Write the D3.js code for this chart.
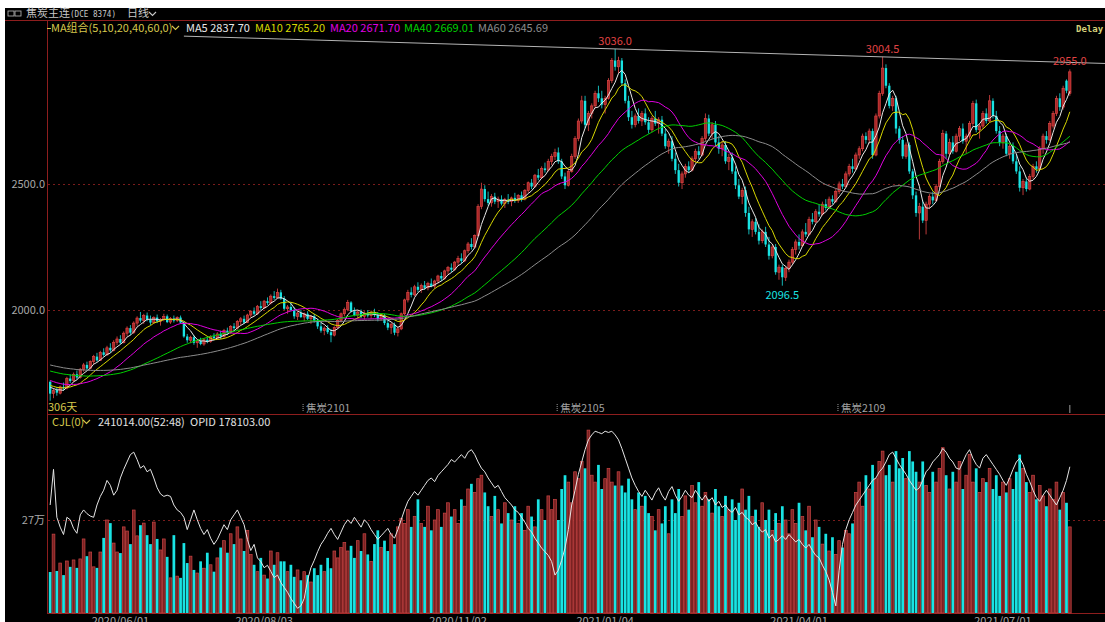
<!DOCTYPE html>
<html>
<head>
<meta charset="utf-8">
<script src="https://cdn.jsdelivr.net/npm/d3@7"></script>
<style>
body { margin: 0; background: #fff; }
svg { display: block; }
text { font-family: "Noto Sans CJK SC", "DejaVu Sans", sans-serif; }
</style>
</head>
<body>
<svg width="1105" height="622"></svg>
<script>
// 焦炭主连 daily candles, [open, high, low, close]
var ohlc = [
  [1715,1720,1640,1668],[1668,1690,1650,1680],[1682,1695,1660,1672],[1670,1700,1665,1695],[1695,1712,1680,1690],[1690,1735,1685,1728],[1728,1745,1710,1718],[1720,1752,1715,1745],[1745,1760,1725,1732],[1732,1770,1728,1765],
  [1765,1790,1755,1782],[1782,1795,1760,1768],[1768,1800,1765,1795],[1795,1822,1785,1815],[1815,1830,1795,1800],[1800,1838,1798,1832],[1832,1848,1815,1822],[1822,1858,1818,1850],[1850,1868,1830,1840],[1840,1880,1836,1872],
  [1872,1895,1860,1885],[1885,1900,1865,1870],[1870,1915,1868,1908],[1908,1935,1895,1928],[1928,1940,1900,1910],[1910,1955,1905,1948],[1948,1975,1935,1968],[1968,1992,1950,1958],[1958,1985,1945,1978],[1978,1990,1955,1962],
  [1962,1978,1940,1950],[1950,1975,1945,1970],[1970,1982,1948,1955],[1955,1968,1938,1962],[1962,1985,1955,1975],[1975,1982,1948,1952],[1952,1972,1945,1966],[1966,1978,1950,1958],[1958,1975,1952,1970],[1970,1978,1945,1950],
  [1950,1955,1890,1895],[1895,1905,1870,1880],[1880,1898,1868,1892],[1892,1900,1862,1870],[1870,1885,1850,1878],[1878,1890,1860,1865],[1865,1888,1858,1882],[1882,1895,1868,1875],[1875,1900,1870,1895],[1895,1908,1880,1888],
  [1888,1912,1882,1905],[1905,1918,1885,1895],[1895,1925,1890,1918],[1918,1930,1900,1910],[1910,1940,1905,1935],[1935,1948,1920,1928],[1928,1960,1922,1955],[1955,1972,1940,1965],[1965,1978,1945,1950],[1950,1985,1948,1980],
  [1980,2000,1970,1995],[1995,2010,1978,1985],[1985,2020,1980,2015],[2015,2035,2000,2008],[2008,2040,2005,2035],[2035,2050,2020,2028],[2028,2062,2022,2055],[2055,2075,2040,2048],[2048,2085,2045,2070],[2070,2080,2040,2045],
  [2045,2055,2000,2005],[2005,2020,1985,2012],[2012,2030,1995,2000],[2000,2010,1965,1975],[1975,1995,1960,1988],[1988,2000,1968,1972],[1972,1990,1955,1985],[1985,1995,1960,1965],[1965,1980,1945,1975],[1975,1985,1950,1958],
  [1958,1965,1925,1935],[1935,1950,1910,1918],[1918,1935,1900,1928],[1928,1940,1905,1912],[1912,1925,1872,1900],[1900,1935,1895,1930],[1930,1965,1925,1958],[1958,1990,1950,1985],[1985,2010,1975,2002],[2002,2040,1995,2030],
  [2030,2035,1990,1995],[1995,2010,1975,1980],[1980,2000,1965,1992],[1992,2002,1968,1975],[1975,1995,1962,1988],[1988,2000,1970,1978],[1978,1998,1965,1990],[1990,2005,1972,1980],[1980,1992,1955,1965],[1965,1985,1958,1978],
  [1978,1985,1940,1948],[1948,1962,1920,1930],[1930,1950,1905,1942],[1942,1950,1900,1910],[1910,1935,1895,1925],[1925,1990,1920,1985],[1985,2045,1980,2040],[2040,2080,2030,2070],[2070,2090,2050,2060],[2060,2100,2055,2092],
  [2092,2110,2070,2080],[2080,2105,2068,2098],[2098,2115,2080,2088],[2088,2112,2078,2105],[2105,2125,2090,2095],[2095,2120,2085,2115],[2115,2140,2105,2135],[2135,2150,2115,2125],[2125,2160,2120,2155],[2155,2175,2140,2168],
  [2168,2185,2150,2160],[2160,2195,2155,2190],[2190,2215,2175,2205],[2205,2225,2185,2195],[2195,2240,2190,2235],[2235,2270,2225,2262],[2262,2285,2240,2250],[2250,2300,2245,2295],[2295,2420,2290,2410],[2410,2505,2400,2480],
  [2480,2495,2430,2440],[2440,2470,2415,2425],[2425,2460,2410,2450],[2450,2465,2420,2430],[2430,2450,2405,2440],[2440,2455,2415,2422],[2422,2445,2405,2438],[2438,2460,2420,2430],[2430,2450,2412,2445],[2445,2465,2425,2435],
  [2435,2460,2425,2455],[2455,2470,2430,2440],[2440,2480,2435,2475],[2475,2510,2465,2505],[2505,2520,2480,2490],[2490,2540,2485,2535],[2535,2560,2515,2525],[2525,2570,2520,2562],[2562,2585,2545,2555],[2555,2600,2550,2590],
  [2590,2620,2575,2610],[2610,2640,2595,2625],[2625,2645,2580,2590],[2590,2600,2520,2530],[2530,2545,2480,2495],[2495,2560,2490,2550],[2550,2620,2545,2610],[2610,2690,2600,2680],[2680,2760,2670,2750],[2750,2850,2740,2830],
  [2830,2850,2720,2735],[2735,2790,2710,2780],[2780,2820,2760,2810],[2810,2870,2800,2860],[2860,2890,2825,2840],[2840,2870,2800,2815],[2815,2850,2780,2840],[2840,2920,2835,2910],[2910,3000,2900,2990],[2990,3036,2950,2965],
  [2965,3005,2940,2990],[2990,3000,2890,2900],[2900,2915,2820,2830],[2830,2850,2750,2765],[2765,2790,2720,2735],[2735,2780,2725,2770],[2770,2800,2740,2750],[2750,2790,2730,2780],[2780,2800,2735,2745],[2745,2765,2700,2715],
  [2715,2770,2705,2760],[2760,2790,2730,2740],[2740,2765,2700,2755],[2755,2770,2690,2700],[2700,2720,2640,2650],[2650,2680,2620,2670],[2670,2690,2590,2600],[2600,2625,2540,2555],[2555,2580,2490,2505],[2505,2550,2480,2540],
  [2540,2580,2525,2570],[2570,2590,2545,2555],[2555,2610,2550,2600],[2600,2640,2585,2630],[2630,2650,2600,2615],[2615,2690,2610,2680],[2680,2780,2670,2760],[2760,2775,2690,2700],[2700,2745,2680,2735],[2735,2750,2650,2665],
  [2665,2690,2620,2640],[2640,2670,2610,2655],[2655,2670,2580,2590],[2590,2620,2555,2605],[2605,2625,2540,2550],[2550,2570,2480,2495],[2495,2520,2440,2450],[2450,2485,2420,2475],[2475,2490,2370,2385],[2385,2410,2300,2320],
  [2320,2360,2290,2350],[2350,2365,2300,2310],[2310,2340,2260,2275],[2275,2320,2265,2310],[2310,2330,2250,2260],[2260,2290,2200,2215],[2215,2260,2205,2250],[2250,2262,2140,2150],[2150,2180,2120,2170],[2170,2180,2096.5,2130],
  [2130,2175,2115,2165],[2165,2200,2150,2190],[2190,2250,2180,2240],[2240,2280,2220,2270],[2270,2300,2240,2255],[2255,2320,2250,2310],[2310,2345,2290,2300],[2300,2370,2295,2360],[2360,2385,2340,2350],[2350,2400,2345,2390],
  [2390,2420,2370,2380],[2380,2430,2375,2420],[2420,2440,2395,2405],[2405,2450,2400,2440],[2440,2455,2420,2430],[2430,2480,2425,2470],[2470,2510,2460,2500],[2500,2520,2480,2490],[2490,2550,2485,2540],[2540,2580,2530,2570],
  [2570,2600,2545,2560],[2560,2625,2555,2615],[2615,2650,2600,2640],[2640,2700,2630,2690],[2690,2705,2660,2675],[2675,2720,2660,2710],[2710,2720,2600,2615],[2615,2780,2610,2770],[2770,2870,2760,2860],[2860,3004.5,2850,2960],
  [2960,2975,2880,2890],[2890,2900,2800,2810],[2810,2850,2790,2840],[2840,2850,2700,2720],[2720,2730,2660,2675],[2675,2690,2600,2610],[2610,2665,2600,2655],[2655,2665,2540,2550],[2550,2560,2440,2455],[2455,2470,2370,2385],
  [2385,2425,2280,2410],[2410,2435,2345,2355],[2355,2430,2300,2420],[2420,2460,2400,2450],[2450,2470,2420,2435],[2435,2500,2430,2490],[2490,2600,2485,2590],[2590,2715,2580,2700],[2700,2710,2600,2620],[2620,2680,2610,2665],
  [2665,2690,2620,2630],[2630,2700,2625,2690],[2690,2730,2670,2720],[2720,2740,2660,2670],[2670,2700,2620,2690],[2690,2750,2680,2740],[2740,2830,2730,2820],[2820,2835,2705,2715],[2715,2740,2680,2730],[2730,2790,2720,2780],
  [2780,2800,2740,2750],[2750,2853,2745,2830],[2830,2840,2760,2770],[2770,2790,2700,2710],[2710,2730,2650,2665],[2665,2700,2640,2690],[2690,2700,2610,2620],[2620,2660,2600,2650],[2650,2665,2580,2590],[2590,2620,2540,2550],
  [2550,2570,2470,2485],[2485,2520,2456,2510],[2510,2525,2470,2480],[2480,2540,2475,2530],[2530,2580,2520,2570],[2570,2590,2545,2560],[2560,2650,2555,2640],[2640,2700,2620,2690],[2690,2710,2660,2675],[2675,2750,2670,2740],
  [2730,2790,2720,2780],[2780,2850,2770,2840],[2840,2860,2790,2805],[2805,2890,2795,2880],[2910,2915,2860,2870],[2860,2955,2850,2945]
];

// closes before the visible window (only feed the moving averages)
var priorCloses = [
  1860,1852,1845,1858,1840,1832,1825,1838,1830,1822,1815,1828,1835,1820,1812,1825,1818,1810,1822,1815,
  1808,1800,1812,1795,1788,1802,1795,1785,1798,1790,1805,1792,1784,1796,1788,1800,1790,1782,1795,1799,
  1770,1762,1755,1748,1740,1735,1728,1725,1720,1718,
  1715,1712,1708,1702,1700,1705,1698,1696,1700
];

// CJL volume, thousand lots
var volume = [
  119,229,122,145,110,151,134,154,131,157, 215,165,177,134,131,177,218,270,261,203,
  177,174,250,238,200,299,224,255,261,226, 200,264,215,183,215,163,102,226,107,102,
  203,145,165,125,116,150,130,175,140,120, 160,190,210,175,230,200,250,215,180,240,
  170,140,120,160,110,100,180,140,175,150, 150,120,140,105,125,95,120,110,90,130,
  110,140,120,160,130,180,160,190,205,180, 195,160,210,180,230,170,150,200,240,190,
  210,180,230,200,250,275,260,300,250,280, 330,260,250,310,240,270,300,250,290,320,
  280,300,260,330,310,360,375,350,390,400, 350,310,280,340,300,260,320,290,270,310,
  260,290,240,310,280,250,330,300,270,340, 300,330,270,360,400,380,320,410,390,440,
  420,531,400,380,430,360,390,420,380,370, 410,370,350,390,330,300,350,310,340,290,
  280,240,300,260,310,230,330,290,360,280, 340,300,370,320,380,310,350,330,290,360,
  310,280,340,300,330,270,320,360,300,340, 280,300,250,320,270,300,240,290,260,310,
  270,230,300,260,320,280,240,310,220,270, 250,200,230,180,220,170,210,190,240,230,
  260,350,380,310,400,360,430,390,440,470, 400,430,380,470,420,450,390,470,440,410,
  380,440,370,350,410,380,420,480,400,360, 410,380,440,360,400,460,380,420,350,390,
  380,420,360,400,340,380,350,390,360,410, 460,420,380,350,400,330,370,340,310,360,
  330,380,300,350,320,250
];

// OPID open interest, thousand lots
var openInterest = [
  147,176,137,129,123,137,135,128,124,139, 143,140,138,137,147,154,159,167,163,155,
  159,169,176,182,188,190,184,177,179,174, 176,169,161,156,154,155,154,147,143,141,
  137,127,135,143,135,128,123,127,120,115, 119,125,131,127,135,139,143,137,131,119,
  110,115,104,101,96,98,93,88,90,84, 80,76,71,67,63,65,71,86,96,102,
  109,115,119,124,128,123,119,125,131,135, 132,137,133,129,135,132,127,123,119,122,
  125,128,123,120,127,135,143,150,154,158, 155,159,163,167,169,166,171,174,177,180,
  184,182,185,188,185,190,192,188,182,177, 174,169,165,161,163,158,153,150,147,143,
  141,137,133,128,125,120,116,112,109,106, 101,90,94,102,112,127,147,159,172,182,
  192,200,204,207,206,205,207,206,207,204, 200,193,185,177,169,163,158,154,159,155,
  151,157,161,155,151,158,162,155,150,154, 159,155,153,159,155,151,155,150,153,147,
  150,145,147,143,141,145,139,141,137,135, 131,133,128,125,127,120,123,117,119,122,
  119,123,120,117,119,115,112,115,110,106, 104,98,93,86,76,65,94,115,127,135,
  141,147,151,155,159,163,167,169,174,177, 182,188,190,185,180,176,172,167,163,159,
  161,167,174,177,182,185,188,193,190,185, 182,177,176,182,188,192,185,180,177,185,
  188,184,180,176,172,167,163,169,176,182, 185,180,172,166,159,153,150,155,159,155,
  151,147,153,159,167,178.103
];

var dateTickIdx = [21, 64, 122, 166, 224, 285];
var dateTickLabels = ["2020/06/01", "2020/08/03", "2020/11/02", "2021/01/04", "2021/04/01", "2021/07/01"];
var contractIdx = [76, 152, 236];
var contractLabels = ["焦炭2101", "焦炭2105", "焦炭2109"];
var priceTicks = [2000, 2500];
var maPeriods = [5, 10, 20, 40, 60];
var maColors = ["#e8e8e8", "#d8d800", "#e000e0", "#00d000", "#8c8c8c"];
var legendMA = [["MA5", "2837.70"], ["MA10", "2765.20"], ["MA20", "2671.70"], ["MA40", "2669.01"], ["MA60", "2645.69"]];
var peakIdx = [169, 249];   // highs joined by the trend line
var lowMarkIdx = 219;       // marked swing low

var svg = d3.select("svg"),
    W = +svg.attr("width"),
    H = +svg.attr("height"),
    RED = "#e84848", CYAN = "#19e3e3", FRAME = "#8e1e1e";

svg.append("rect").attr("x", 5).attr("y", 8).attr("width", W - 5).attr("height", H - 8).attr("fill", "#000");

var x = d3.scaleBand()
    .domain(d3.range(ohlc.length))
    .range([49, 1071])
    .paddingInner(0.3);

var y = d3.scaleLinear().domain([2000, 2500]).range([310, 184]);
var yVol = d3.scaleLinear().domain([0, 270]).range([613, 520]);
var yOi = d3.scaleLinear().domain([60, 208]).range([612, 430]);

var bw = x.bandwidth(),
    cx = function(i) { return x(i) + bw / 2; },
    isUp = function(d) { return d[3] >= d[0]; };

// frame lines
svg.append("line").attr("x1", 5).attr("x2", W).attr("y1", 20.5).attr("y2", 20.5).attr("stroke", FRAME);
svg.append("line").attr("x1", 47.5).attr("x2", 47.5).attr("y1", 20).attr("y2", 613).attr("stroke", FRAME);
svg.append("line").attr("x1", 47).attr("x2", W).attr("y1", 414.5).attr("y2", 414.5).attr("stroke", FRAME);
svg.append("line").attr("x1", 47).attr("x2", W).attr("y1", 613.5).attr("y2", 613.5).attr("stroke", FRAME);

// dotted grid
svg.selectAll(".grid")
  .data(priceTicks.map(function(d) { return y(d); }).concat([yVol(270)]))
  .enter().append("line")
    .attr("x1", 48).attr("x2", W)
    .attr("y1", function(d) { return Math.round(d) + 0.5; })
    .attr("y2", function(d) { return Math.round(d) + 0.5; })
    .attr("stroke", "#7a1c1c")
    .attr("stroke-dasharray", "2,3");

// y axes
var gy = svg.append("g")
    .attr("transform", "translate(47,0)")
    .call(d3.axisLeft(y).tickValues(priceTicks).tickFormat(d3.format(".1f")).tickSize(0).tickPadding(2));
var gv = svg.append("g")
    .attr("transform", "translate(47,0)")
    .call(d3.axisLeft(yVol).tickValues([270]).tickFormat(function(d) { return (d / 10) + "万"; }).tickSize(0).tickPadding(2));
var gx = svg.append("g")
    .attr("transform", "translate(0,613)")
    .call(d3.axisBottom(x).tickValues(dateTickIdx).tickFormat(function(d, i) { return dateTickLabels[i]; }).tickSize(0).tickPadding(4));
[gy, gv, gx].forEach(function(g) {
  g.select(".domain").remove();
  g.selectAll("text").attr("fill", "#a8a8a8").style("font-size", "11px")
    .style("font-family", "'Noto Sans CJK SC', sans-serif");
});

// volume bars
svg.append("g").selectAll("rect")
  .data(ohlc)
  .enter().append("rect")
    .attr("x", function(d, i) { return x(i) - 0.2; })
    .attr("y", function(d, i) { return yVol(volume[i]); })
    .attr("width", bw + 0.4)
    .attr("height", function(d, i) { return 613 - yVol(volume[i]); })
    .attr("fill", function(d) { return isUp(d) ? "#7a2222" : CYAN; })
    .attr("stroke", function(d) { return isUp(d) ? "#c94444" : "none"; })
    .attr("stroke-width", 0.7);

// open interest line
svg.append("path")
    .datum(openInterest)
    .attr("fill", "none")
    .attr("stroke", "#e6e6e6")
    .attr("stroke-width", 1)
    .attr("d", d3.line().x(function(d, i) { return cx(i); }).y(function(d) { return yOi(d); }));

// candles
var candle = svg.append("g").selectAll("g")
  .data(ohlc)
  .enter().append("g");

candle.append("line")
    .attr("x1", function(d, i) { return cx(i); })
    .attr("x2", function(d, i) { return cx(i); })
    .attr("y1", function(d) { return y(d[1]); })
    .attr("y2", function(d) { return y(d[2]); })
    .attr("stroke", function(d) { return isUp(d) ? RED : CYAN; })
    .attr("stroke-width", 0.8);

candle.append("rect")
    .attr("x", function(d, i) { return x(i); })
    .attr("y", function(d) { return y(Math.max(d[0], d[3])); })
    .attr("width", bw)
    .attr("height", function(d) { return Math.max(1, Math.abs(y(d[0]) - y(d[3]))); })
    .attr("fill", function(d) { return isUp(d) ? "#a82828" : CYAN; })
    .attr("stroke", function(d) { return isUp(d) ? RED : "none"; })
    .attr("stroke-width", 0.6);

// moving averages
var allCloses = priorCloses.concat(ohlc.map(function(d) { return d[3]; }));
maPeriods.forEach(function(n, k) {
  var vals = ohlc.map(function(d, i) {
    var end = priorCloses.length + i + 1;
    return d3.mean(allCloses.slice(end - n, end));
  });
  svg.append("path")
      .datum(vals)
      .attr("fill", "none")
      .attr("stroke", maColors[k])
      .attr("stroke-width", 1)
      .attr("d", d3.line().x(function(d, i) { return cx(i); }).y(function(d) { return y(d); }));
});

// trend line through the two highs
var p0 = peakIdx[0], p1 = peakIdx[1],
    slope = (ohlc[p1][1] - ohlc[p0][1]) / (p1 - p0),
    xStep = x.step(),
    iStart = 40, iEnd = (W - cx(0)) / xStep;
svg.append("line")
    .attr("x1", cx(iStart)).attr("y1", y(ohlc[p0][1] + slope * (iStart - p0)))
    .attr("x2", W).attr("y2", y(ohlc[p0][1] + slope * (iEnd - p0)))
    .attr("stroke", "#b4b4b4").attr("stroke-width", 1);

// high / low marks
var highMarks = [p0, p1, ohlc.length - 1];
svg.selectAll(".hmark")
  .data(highMarks)
  .enter().append("text")
    .attr("x", function(i) { return cx(i); })
    .attr("y", function(i) { return y(ohlc[i][1]) - 4; })
    .attr("text-anchor", "middle")
    .attr("fill", "#e04444")
    .style("font-size", "11px")
    .text(function(i) { return ohlc[i][1].toFixed(1); });

svg.append("text")
    .attr("x", cx(lowMarkIdx)).attr("y", y(ohlc[lowMarkIdx][2]) + 13)
    .attr("text-anchor", "middle")
    .attr("fill", CYAN)
    .style("font-size", "11px")
    .text(ohlc[lowMarkIdx][2].toFixed(1));

// contract roll markers
svg.selectAll(".roll")
  .data(contractIdx)
  .enter().append("line")
    .attr("x1", function(i) { return x(i); }).attr("x2", function(i) { return x(i); })
    .attr("y1", 404).attr("y2", 412)
    .attr("stroke", "#9a9a9a").attr("stroke-dasharray", "1,1");
svg.selectAll(".rollText")
  .data(contractIdx)
  .enter().append("text")
    .attr("x", function(i) { return x(i) + 3; })
    .attr("y", 412)
    .attr("fill", "#a0a0a0")
    .style("font-size", "10.5px")
    .text(function(d, k) { return contractLabels[k]; });
svg.append("line")
    .attr("x1", cx(ohlc.length - 1)).attr("x2", cx(ohlc.length - 1))
    .attr("y1", 405).attr("y2", 413).attr("stroke", "#9a9a9a");

svg.append("text").attr("x", 48).attr("y", 411).attr("fill", "#d6c84c").style("font-size", "11px")
    .text(ohlc.length + "天");

// title bar
svg.append("rect").attr("x", 8).attr("y", 11).attr("width", 6).attr("height", 5).attr("fill", "none").attr("stroke", "#bdbdbd").attr("stroke-width", 0.8);
svg.append("rect").attr("x", 15).attr("y", 11).attr("width", 6).attr("height", 5).attr("fill", "none").attr("stroke", "#bdbdbd").attr("stroke-width", 0.8);
svg.append("text").attr("x", 26).attr("y", 17).attr("fill", "#c8c8c8").style("font-size", "11px").text("焦炭主连");
svg.append("text").attr("x", 70).attr("y", 17).attr("fill", "#c8c8c8")
    .style("font-size", "9px").style("font-family", "'DejaVu Sans Mono', monospace")
    .attr("textLength", 46).attr("lengthAdjust", "spacingAndGlyphs")
    .text("(DCE 8374)");
svg.append("text").attr("x", 127).attr("y", 17).attr("fill", "#c8c8c8").style("font-size", "11px").text("日线");
svg.append("path").attr("d", "M149,12 l3.5,3.5 l3.5,-3.5").attr("fill", "none").attr("stroke", "#c8c8c8").attr("stroke-width", 1.1);

// MA legend
svg.append("line").attr("x1", 47).attr("x2", 51).attr("y1", 28.5).attr("y2", 28.5).attr("stroke", "#d6c84c");
svg.append("text").attr("x", 51).attr("y", 32).attr("fill", "#d6c84c").style("font-size", "11px").text("MA组合(5,10,20,40,60,0)");
svg.append("path").attr("d", "M172,26 l3.5,3.5 l3.5,-3.5").attr("fill", "none").attr("stroke", "#d6c84c").attr("stroke-width", 1.1);
var legendX = [186, 255, 330, 404, 478];
legendMA.forEach(function(m, k) {
  svg.append("text").attr("x", legendX[k]).attr("y", 32)
      .attr("fill", k === 0 ? "#e8e8e8" : maColors[k])
      .style("font-size", "11px")
      .text(m[0] + " " + m[1]);
});
svg.append("text").attr("x", 1076).attr("y", 32).attr("fill", "#d6d27a")
    .style("font-size", "9px").style("font-family", "'DejaVu Sans Mono', monospace").style("font-weight", "bold")
    .text("Delay");

// volume legend
svg.append("text").attr("x", 52).attr("y", 426).attr("fill", "#d6c84c").style("font-size", "11px").text("CJL(0)");
svg.append("path").attr("d", "M83,420 l3.5,3.5 l3.5,-3.5").attr("fill", "none").attr("stroke", "#d6c84c").attr("stroke-width", 1.1);
svg.append("text").attr("x", 98).attr("y", 426).attr("fill", "#e0e0e0").style("font-size", "11px").text("241014.00(52:48)");
svg.append("text").attr("x", 190).attr("y", 426).attr("fill", "#e0e0e0").style("font-size", "11px")
    .text("OPID " + (openInterest[openInterest.length - 1] * 1000).toFixed(2));
</script>
</body>
</html>
